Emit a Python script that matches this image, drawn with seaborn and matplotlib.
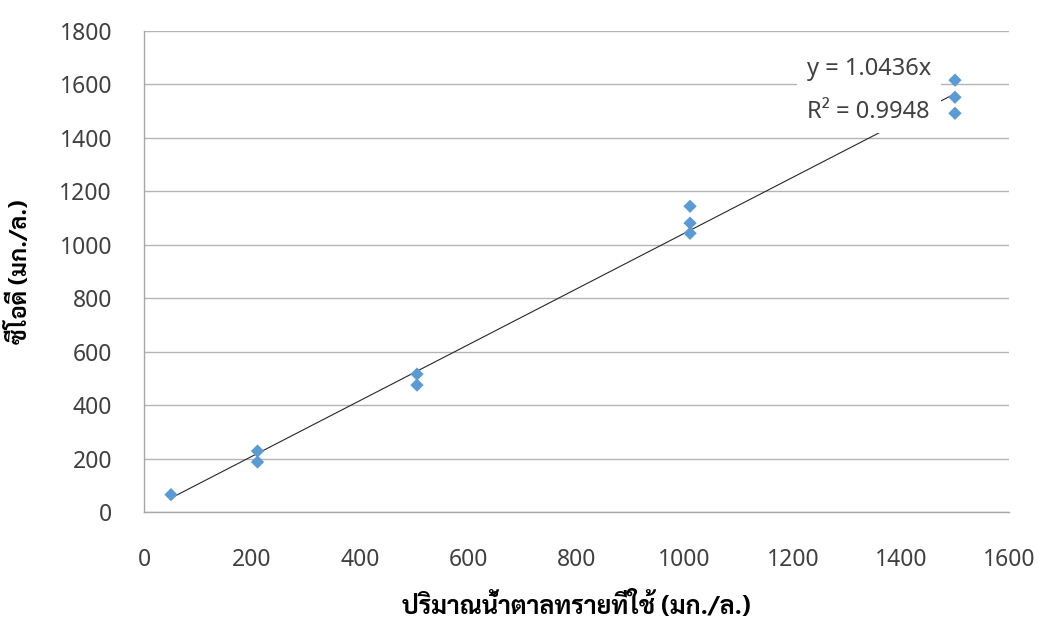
import numpy as np
import pandas as pd
import seaborn as sns
import matplotlib
matplotlib.use("Agg")
import matplotlib.pyplot as plt
from matplotlib import font_manager, ft2font

# Sugar added (mg/L) vs measured COD (mg/L), triplicate readings
sugar_mg_l = [50, 210, 210, 505, 505, 1010, 1010, 1010, 1500, 1500, 1500]
cod_mg_l = [65, 228, 187, 516, 475, 1144, 1081, 1043, 1616, 1552, 1492]

# Linear fit through the origin
slope = 1.0436
r_squared = 0.9948

x_ticks = [0, 200, 400, 600, 800, 1000, 1200, 1400, 1600]
y_ticks = [0, 200, 400, 600, 800, 1000, 1200, 1400, 1600, 1800]

x_label = "ปริมาณน้ำตาลทรายที่ใช้ (มก./ล.)"
y_label = "ซีโอดี (มก./ล.)"


def thai_family():
    """Return the name of an installed family that covers Thai script."""
    sample = "ปริมาณน้ำตาลซีโอดี"
    found = []
    for path in font_manager.findSystemFonts():
        try:
            cmap = ft2font.FT2Font(path).get_charmap()
        except Exception:
            continue
        if all(ord(c) in cmap for c in sample):
            try:
                font_manager.fontManager.addfont(path)
                found.append(font_manager.FontProperties(fname=path).get_name())
            except Exception:
                pass
    if not found:
        return "DejaVu Sans"
    for pref in ("Sarabun", "Noto Sans Thai", "Loma", "Garuda", "Thai"):
        for name in found:
            if pref in name:
                return name
    return found[0]


sns.set_theme(style="white")
thai = thai_family()
plt.rcParams["font.family"] = ["Noto Sans", thai, "DejaVu Sans"]

df = pd.DataFrame({"sugar": sugar_mg_l, "cod": cod_mg_l})
trend_x = np.array([min(sugar_mg_l), max(sugar_mg_l)])
trend = pd.DataFrame({"sugar": trend_x, "cod": slope * trend_x})

fig = plt.figure(figsize=(10.38, 6.26), dpi=100)
ax = fig.add_axes([0.1387, 0.1821, 0.9721 - 0.1387, 0.9505 - 0.1821])

sns.lineplot(data=trend, x="sugar", y="cod", ax=ax, color="#262626",
             linewidth=0.8, zorder=3)
sns.scatterplot(data=df, x="sugar", y="cod", ax=ax, marker="D", s=46,
                color="#5B9BD5", edgecolor="none", linewidth=0, zorder=4)

ax.set_xlim(0, 1600)
ax.set_ylim(0, 1800)
ax.set_xticks(x_ticks)
ax.set_yticks(y_ticks)
ax.tick_params(axis="both", length=0, labelsize=16.5, colors="#404040")
ax.tick_params(axis="x", pad=26)
ax.tick_params(axis="y", pad=23)

ax.yaxis.grid(True, color="#b4b4b4", linewidth=1.0)
ax.xaxis.grid(False)
ax.set_axisbelow(True)
for side in ("top", "right"):
    ax.spines[side].set_visible(False)
for side in ("left", "bottom"):
    ax.spines[side].set_color("#a6a6a6")
    ax.spines[side].set_linewidth(1.0)

ax.set_xlabel(x_label, family=[thai, "DejaVu Sans"], fontsize=18,
              fontweight="bold", color="black", labelpad=14)
ax.set_ylabel(y_label, family=[thai, "DejaVu Sans"], fontsize=17,
              fontweight="bold", color="black", labelpad=20)

ax.text(1226, 1578, f"y = {slope:.4f}x\nR² = {r_squared:.4f}",
        fontsize=17, color="#404040", ha="left", va="center",
        linespacing=2.05, zorder=5,
        bbox=dict(boxstyle="square,pad=0.4", facecolor="white",
                  edgecolor="none"))

fig.savefig("out.png", dpi=100)
